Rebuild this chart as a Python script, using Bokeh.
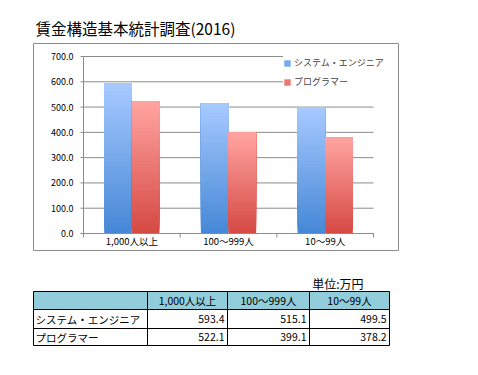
from bokeh.plotting import figure
from bokeh.models import Legend, LegendItem, Range1d
from bokeh.core.properties import value
from bokeh.embed import file_html
from bokeh.resources import INLINE

# ---------------- data ----------------
title_text = "賃金構造基本統計調査(2016)"
categories = ["1,000人以上", "100～999人", "10～99人"]
series_names = ["システム・エンジニア", "プログラマー"]
se_values = [593.4, 515.1, 499.5]
pg_values = [522.1, 399.1, 378.2]
y_ticks = [0, 100, 200, 300, 400, 500, 600, 700]
unit_text = "単位:万円"

# ---------------- layout (pixels from top-left) ----------------
W, H = 478, 375
FL, FR, FT, FB = 83, 373, 56, 233      # chart plot area
YMAX = 700
NC = len(categories)
FONT = value("Noto Sans CJK JP")
GRAY = "#8c8c8c"

# whole-canvas frame in pixel coordinates; chart drawn through extra ranges
p = figure(width=W, height=H, output_backend="svg", toolbar_location=None,
           x_range=Range1d(0, W), y_range=Range1d(H, 0),
           x_axis_type=None, y_axis_type=None,
           min_border=0, min_border_left=0, min_border_right=0,
           min_border_top=0, min_border_bottom=0)
p.grid.visible = False
p.outline_line_color = None
p.background_fill_color = "white"
p.border_fill_color = "white"

xu = NC / (FR - FL)
yu = YMAX / (FB - FT)
p.extra_x_ranges = {"cx": Range1d(-FL * xu, NC + (W - FR) * xu)}
p.extra_y_ranges = {"cy": Range1d(-(H - FB) * yu, YMAX + FT * yu)}

# outer chart box
p.quad(left=[33], right=[398], top=[43], bottom=[250], fill_color=None,
       line_color=GRAY, line_width=1)

# title
p.text(x=[35], y=[27], text=[title_text], text_font=FONT, text_font_size="15.5px",
       text_baseline="middle", text_align="left", text_color="black")

# grid lines
p.segment(x0=[0] * len(y_ticks), x1=[NC] * len(y_ticks), y0=y_ticks, y1=y_ticks,
          line_color=GRAY, line_width=1, x_range_name="cx", y_range_name="cy")

# bars with vertical gradient (light top, dark bottom)
def mix(c0, c1, t):
    return "#%02x%02x%02x" % tuple(int(round(a + (b - a) * t)) for a, b in zip(c0, c1))


N = 40
bw = 0.285
specs = [
    (se_values, -0.143, (70, 136, 214), (166, 201, 255)),
    (pg_values, 0.143, (214, 74, 68), (255, 163, 160)),
]
bar_renderers = []
for vals, off, c_bot, c_top in specs:
    xs, bottoms, tops, colors = [], [], [], []
    for i, v in enumerate(vals):
        for k in range(N):
            xs.append(i + 0.5 + off)
            bottoms.append(v * k / N)
            tops.append(v)
            colors.append(mix(c_bot, c_top, k / (N - 1)))
    r = p.vbar(x=xs, bottom=bottoms, top=tops, width=bw, fill_color=colors,
               line_color=None, x_range_name="cx", y_range_name="cy")
    bar_renderers.append(r)

# y axis line, ticks, labels
p.segment(x0=[FL], x1=[FL], y0=[0], y1=[YMAX], line_color=GRAY, y_range_name="cy")
p.segment(x0=[FL - 3] * len(y_ticks), x1=[FL] * len(y_ticks), y0=y_ticks, y1=y_ticks,
          line_color=GRAY, y_range_name="cy")
p.text(x=[FL - 10] * len(y_ticks), y=y_ticks, text=[f"{t:.1f}" for t in y_ticks],
       text_font=FONT, text_font_size="9px", text_baseline="middle", text_align="right",
       text_color="black", y_range_name="cy")

# x axis line, boundary ticks, category labels
p.segment(x0=[0], x1=[NC], y0=[0], y1=[0], line_color=GRAY,
          x_range_name="cx", y_range_name="cy")
bounds = list(range(NC + 1))
p.segment(x0=bounds, x1=bounds, y0=[FB] * len(bounds), y1=[FB + 4] * len(bounds),
          line_color=GRAY, x_range_name="cx")
p.text(x=[i + 0.5 for i in range(NC)], y=[FB + 7] * NC, text=categories,
       text_font=FONT, text_font_size="9.5px", text_baseline="middle", text_align="center",
       text_color="black", x_range_name="cx")

# legend
legend = Legend(items=[LegendItem(label=series_names[0], renderers=[bar_renderers[0]], index=N // 2),
                       LegendItem(label=series_names[1], renderers=[bar_renderers[1]], index=N // 2)],
                location=(283, H - 88), glyph_width=8, glyph_height=8,
                label_height=10, label_standoff=3, spacing=6, padding=8, margin=0,
                border_line_color=None, background_fill_color="white",
                background_fill_alpha=1.0,
                label_text_font="Noto Sans CJK JP", label_text_font_size="9px")
p.add_layout(legend)

# unit label
p.text(x=[363], y=[283], text=[unit_text], text_font=FONT, text_font_size="12px",
       text_baseline="middle", text_align="right", text_color="black")

# table
col_edges = [33, 147, 227, 309, 389]
row_edges = [291, 309, 328, 345]
header_fill = "#92cddc"
lefts, rights, tops_, bottoms_, fills = [], [], [], [], []
for r in range(3):
    for c in range(4):
        lefts.append(col_edges[c]); rights.append(col_edges[c + 1])
        tops_.append(row_edges[r]); bottoms_.append(row_edges[r + 1])
        fills.append(header_fill if r == 0 else "white")
p.quad(left=lefts, right=rights, top=tops_, bottom=bottoms_, fill_color=fills,
       line_color="black", line_width=1)

hx = [(col_edges[c + 1] + col_edges[c + 2]) / 2 for c in range(NC)]
hy = (row_edges[0] + row_edges[1]) / 2
p.text(x=hx, y=[hy] * NC, text=categories, text_font=FONT, text_font_size="10.5px",
       text_baseline="middle", text_align="center", text_color="black")

for r, (name, vals) in enumerate(zip(series_names, [se_values, pg_values])):
    ym = (row_edges[r + 1] + row_edges[r + 2]) / 2
    p.text(x=[col_edges[0] + 2], y=[ym], text=[name], text_font=FONT, text_font_size="10.5px",
           text_baseline="middle", text_align="left", text_color="black")
    p.text(x=[col_edges[c + 2] - 3 for c in range(NC)], y=[ym] * NC,
           text=[f"{v:.1f}" for v in vals], text_font=FONT, text_font_size="10.5px",
           text_baseline="middle", text_align="right", text_color="black")

open("out.html", "w").write(file_html(p, INLINE))
